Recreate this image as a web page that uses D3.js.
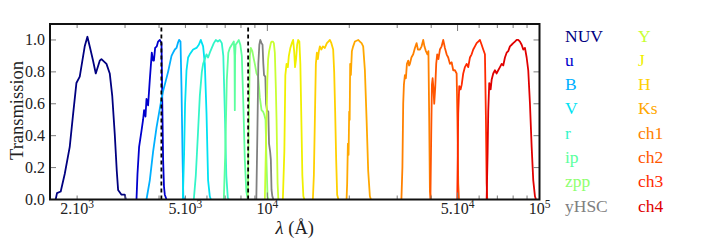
<!DOCTYPE html>
<html>
<head>
<meta charset="utf-8">
<script src="https://cdn.jsdelivr.net/npm/d3@7"></script>
<style>
  body { margin: 0; background: #fff; }
  svg { display: block; }
  text { font-family: "Liberation Serif", "Times New Roman", serif; }
</style>
</head>
<body>
<div id="chart"></div>
<script>
// filter curves, [wavelength (Å), transmission]
const NUV = [[1668,0],[1687,0.04],[1741,0.05],[1801,0.16],[1879,0.33],[1932,0.53],[1988,0.73],[2045,0.77],[2133,0.96],[2182,1.02],[2239,0.94],[2289,0.87],[2342,0.79],[2422,0.87],[2457,0.88],[2564,0.85],[2636,0.79],[2692,0.65],[2750,0.41],[2797,0.18],[2829,0.06],[2912,0.03],[2994,0.03],[3019,0]];
const u = [[3305,0],[3333,0.16],[3379,0.33],[3448,0.43],[3495,0.5],[3525,0.56],[3567,0.52],[3597,0.63],[3646,0.59],[3699,0.75],[3762,0.92],[3804,0.87],[3830,0.87],[3870,0.95],[3925,0.96],[3968,0.99],[4026,1.0],[4084,0.98],[4112,0.6],[4140,0.25],[4171,0.08],[4200,0.03],[4261,0]];
const B = [[3597,0],[3699,0.12],[3804,0.3],[3915,0.45],[4026,0.57],[4084,0.63],[4140,0.68],[4200,0.72],[4318,0.8],[4381,0.85],[4445,0.9],[4506,0.92],[4571,0.94],[4637,0.95],[4689,0.98],[4740,1.0],[4796,0.99],[4837,0.7],[4878,0.29],[4911,0.02],[4953,0]];
const V = [[4891,0],[4945,0.29],[4986,0.6],[5046,0.81],[5115,0.89],[5189,0.91],[5336,0.94],[5491,0.95],[5601,0.97],[5696,1.0],[5808,0.96],[5892,0.85],[5977,0.54],[6058,0.12],[6146,0.02],[6198,0]];
const r = [[5368,0],[5459,0.15],[5554,0.4],[5648,0.65],[5745,0.8],[5808,0.85],[5892,0.88],[5977,0.91],[6058,0.89],[6146,0.92],[6251,0.95],[6358,0.98],[6467,1.0],[6577,0.99],[6689,1.0],[6803,0.98],[6890,0.9],[6978,0.55],[7067,0.15],[7157,0.01],[7219,0]];
const ip = [[6919,0],[7007,0.3],[7097,0.75],[7188,0.92],[7280,0.95],[7405,0.97],[7530,0.99],[7575,0.9],[7594,0.56],[7613,0.9],[7646,0.97],[7724,0.98],[7855,1.0],[7955,0.97],[8058,0.9],[8161,0.6],[8265,0.25],[8371,0.05],[8477,0]];
const zpp = [[8477,0],[8549,0.5],[8622,0.9],[8695,0.95],[8806,0.93],[8919,0.88],[8995,0.85],[9125,0.79],[9250,0.77],[9384,0.64],[9520,0.56],[9650,0.55],[9749,0.53],[9848,0.5],[9932,0.23],[10016,0.02],[10084,0]];
const yHSC = [[9110,0],[9188,0.4],[9266,0.85],[9345,0.97],[9423,1.0],[9520,0.98],[9601,0.97],[9667,0.85],[9723,0.78],[9831,0.77],[9890,0.6],[9973,0.56],[10084,0.55],[10144,0.35],[10239,0.3],[10300,0.25],[10361,0.06],[10432,0.02],[10521,0]];
const Y = [[9790,0],[9873,0.3],[9932,0.5],[10000,0.75],[10067,0.88],[10153,0.93],[10213,0.95],[10300,0.98],[10361,0.99],[10477,0.99],[10566,0.98],[10655,0.92],[10745,0.7],[10809,0.5],[10906,0.1],[10976,0]];
const J = [[11402,0],[11547,0.3],[11645,0.78],[11764,0.85],[11895,0.83],[11995,0.9],[12148,0.95],[12304,0.98],[12440,1.0],[12546,0.93],[12641,0.83],[12749,0.88],[12866,0.97],[12978,1.0],[13111,0.99],[13221,0.85],[13335,0.5],[13448,0.15],[13562,0.02],[13677,0]];
const H = [[14698,0],[14822,0.15],[14948,0.5],[15075,0.85],[15204,0.92],[15332,0.88],[15464,0.93],[15595,0.96],[15795,0.94],[15996,0.96],[16269,0.95],[16547,0.98],[16758,0.99],[16972,1.0],[17189,0.98],[17453,0.94],[17602,0.8],[17750,0.55],[17901,0.25],[18051,0.03],[18238,0]];
const Ks = [[19549,0],[19646,0.1],[19767,0.35],[19882,0.28],[19984,0.55],[20069,0.5],[20153,0.85],[20274,0.78],[20447,0.93],[20672,0.96],[20972,0.99],[21566,1.0],[21879,0.99],[22196,0.98],[22499,0.96],[22825,0.81],[23156,0.5],[23471,0.18],[23811,0.02],[24013,0]];
const ch1 = [[31088,0],[31352,0.2],[31564,0.6],[31753,0.72],[32022,0.78],[32294,0.76],[32570,0.85],[32928,0.87],[33179,0.84],[33406,0.85],[33834,0.89],[34353,0.91],[34851,0.95],[35356,0.98],[35747,0.94],[36357,0.94],[36884,0.96],[37387,1.0],[37770,0.96],[38252,0.93],[38741,0.91],[39070,0.93],[39336,0.5],[39569,0.05],[39905,0]];
const ch2 = [[39736,0],[40004,0.4],[40245,0.72],[40483,0.76],[40756,0.7],[41035,0.6],[41382,0.7],[41733,0.85],[42084,0.91],[42521,0.88],[43064,0.94],[43688,0.96],[44283,1.0],[44925,0.95],[45576,0.91],[46197,0.89],[46867,0.85],[47547,0.86],[48194,0.81],[48893,0.81],[49602,0.79],[49939,0.5],[50278,0.1],[50579,0]];
const ch3 = [[49854,0],[50278,0.54],[50706,0.71],[51308,0.69],[51787,0.72],[52451,0.79],[53212,0.83],[53984,0.85],[54718,0.83],[55512,0.89],[56317,0.91],[57083,0.94],[57911,0.96],[58751,0.98],[59551,0.99],[60415,1.0],[61291,0.97],[62125,0.94],[63026,0.91],[63562,0.5],[63940,0.1],[64265,0]];
const ch4 = [[63940,0],[64482,0.3],[64811,0.55],[65363,0.73],[66139,0.69],[66704,0.75],[67612,0.79],[68593,0.81],[69588,0.79],[70535,0.81],[71558,0.83],[72596,0.85],[73584,0.84],[74651,0.89],[75733,0.92],[76764,0.93],[77878,0.96],[79007,0.97],[80083,0.98],[81245,0.99],[82423,1.0],[83545,1.0],[84757,0.99],[85986,0.97],[87156,0.94],[88420,0.95],[89702,0.89],[90923,0.81],[92242,0.6],[93580,0.33],[94853,0.12],[96229,0.02],[97047,0]];

const filterNames = ["NUV", "u", "B", "V", "r", "ip", "zpp", "yHSC", "Y", "J", "H", "Ks", "ch1", "ch2", "ch3", "ch4"];
const filterCurves = [NUV, u, B, V, r, ip, zpp, yHSC, Y, J, H, Ks, ch1, ch2, ch3, ch4];
const filterColors = ["#000080", "#0000cd", "#00b0ff", "#00e2f2", "#33f5c8", "#5cff9e", "#90ff70", "#808080",
                      "#c8ff32", "#f0f000", "#ffd000", "#ffa800", "#ff8000", "#ff5500", "#ff2a00", "#e00000"];

// dashed reference wavelengths
const breakLines = [4080, 8500];

const xTickLabels = [[2000, "2.10", "3"], [5000, "5.10", "3"], [10000, "10", "4"], [50000, "5.10", "4"], [100000, "10", "5"]];
const xMajorTicks = [10000, 50000, 100000];
const xMinorTicks = [2000, 3000, 4000, 5000, 6000, 7000, 8000, 9000, 20000, 30000, 40000, 60000, 70000, 80000, 90000];
const yTicks = [0, 0.2, 0.4, 0.6, 0.8, 1.0];

const W = 720, Ht = 240;
const pLeft = 50, pRight = 539.5, pTop = 24, pBottom = 199.5;

const svg = d3.select("#chart").append("svg")
  .attr("width", W)
  .attr("height", Ht);

svg.append("rect").attr("width", W).attr("height", Ht).attr("fill", "#fff");

const x = d3.scaleLog().domain([1590, 100000]).range([pLeft, pRight]);
const y = d3.scaleLinear().domain([0, 1.1]).range([pBottom, pTop]);

const plot = svg.append("g");
plot.append("clipPath").attr("id", "clip")
  .append("rect").attr("x", pLeft).attr("y", pTop).attr("width", pRight - pLeft).attr("height", pBottom - pTop);

// ticks (inward, on all four sides)
const ticks = svg.append("g").attr("stroke", "#7a7a7a").attr("stroke-width", 1);
function xTick(v, len) {
  ticks.append("line").attr("x1", x(v)).attr("x2", x(v)).attr("y1", pBottom).attr("y2", pBottom - len);
  ticks.append("line").attr("x1", x(v)).attr("x2", x(v)).attr("y1", pTop).attr("y2", pTop + len);
}
xMinorTicks.forEach(v => xTick(v, 4));
xMajorTicks.forEach(v => xTick(v, 7));
yTicks.forEach(v => {
  ticks.append("line").attr("x1", pLeft).attr("x2", pLeft + 6).attr("y1", y(v)).attr("y2", y(v));
  ticks.append("line").attr("x1", pRight).attr("x2", pRight - 6).attr("y1", y(v)).attr("y2", y(v));
});

// filter curves
const line = d3.line()
  .x(d => x(d[0]))
  .y(d => y(d[1]));

const curves = plot.append("g").attr("clip-path", "url(#clip)");
filterCurves.forEach((c, i) => {
  curves.append("path")
    .datum(c)
    .attr("fill", "none")
    .attr("stroke", filterColors[i])
    .attr("stroke-width", 1.8)
    .attr("stroke-linejoin", "round")
    .attr("d", line);
});

// dashed lines
breakLines.forEach(v => {
  plot.append("line")
    .attr("x1", x(v)).attr("x2", x(v))
    .attr("y1", pBottom).attr("y2", pTop)
    .attr("stroke", "#000")
    .attr("stroke-width", 1.8)
    .attr("stroke-dasharray", "4,3");
});

// frame
svg.append("rect")
  .attr("x", pLeft).attr("y", pTop)
  .attr("width", pRight - pLeft).attr("height", pBottom - pTop)
  .attr("fill", "none")
  .attr("stroke", "#111")
  .attr("stroke-width", 2);

// x tick labels
xTickLabels.forEach(t => {
  const txt = svg.append("text")
    .attr("x", x(t[0]))
    .attr("y", 214)
    .attr("text-anchor", "middle")
    .attr("font-size", 16)
    .attr("fill", "#222");
  txt.append("tspan").text(t[1]);
  txt.append("tspan").attr("dy", -6).attr("font-size", 11.5).text(t[2]);
});

// y tick labels
yTicks.forEach(v => {
  svg.append("text")
    .attr("x", 45)
    .attr("y", y(v) + 5.5)
    .attr("text-anchor", "end")
    .attr("font-size", 16)
    .attr("fill", "#222")
    .text(v.toFixed(1));
});

// axis labels
svg.append("text")
  .attr("transform", "translate(23,110.5) rotate(-90)")
  .attr("text-anchor", "middle")
  .attr("font-size", 18.5)
  .attr("fill", "#222")
  .text("Transmission");

const xl = svg.append("text")
  .attr("x", (pLeft + pRight) / 2)
  .attr("y", 234)
  .attr("text-anchor", "middle")
  .attr("font-size", 18.5)
  .attr("fill", "#222");
xl.append("tspan").attr("font-style", "italic").text("λ");
xl.append("tspan").text(" (Å)");

// legend, two columns of eight
filterNames.forEach((name, i) => {
  const col = Math.floor(i / 8), row = i % 8;
  svg.append("text")
    .attr("x", col === 0 ? 565 : 638)
    .attr("y", 41.5 + row * 24.3)
    .attr("font-size", 17.5)
    .attr("fill", filterColors[i])
    .text(name);
});
</script>
</body>
</html>
